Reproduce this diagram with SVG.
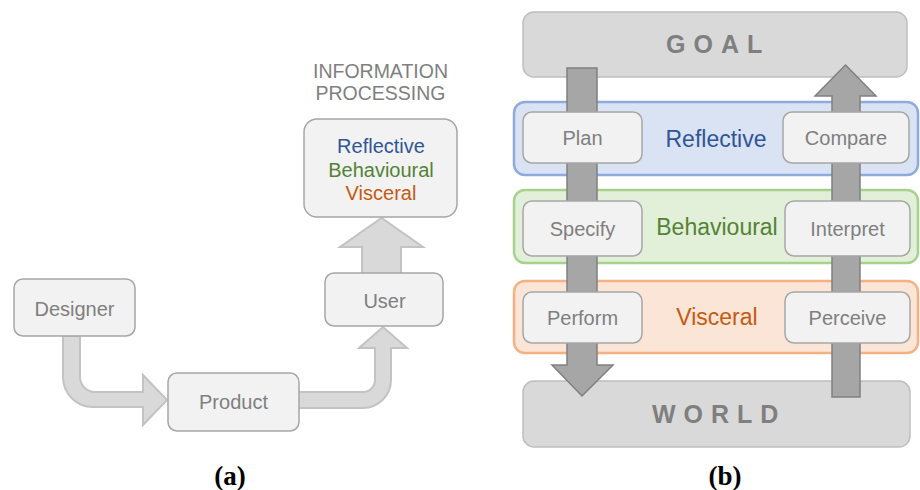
<svg xmlns="http://www.w3.org/2000/svg" width="920" height="490" viewBox="0 0 920 490">
<style>
.bg{fill:#ffffff}
.box{fill:#f2f2f2;stroke:#a6a6a6;stroke-width:1.5}
.big{fill:#d9d9d9;stroke:#bfbfbf;stroke-width:1.5}
.t{font-family:"Liberation Sans",Arial,sans-serif;font-size:20px;fill:#7f7f7f;text-anchor:middle}
.band{font-family:"Liberation Sans",Arial,sans-serif;font-size:23px;text-anchor:middle}
.spaced{font-family:"Liberation Sans",Arial,sans-serif;font-size:25px;font-weight:bold;fill:#7f7f7f;letter-spacing:8px}
.la{fill:#d9d9d9;stroke:#c3c3c3;stroke-width:2}
.lb{fill:#a6a6a6;stroke:#808080;stroke-width:1.5}
.cap{font-family:"Liberation Serif","Times New Roman",serif;font-size:27px;font-weight:bold;fill:#000;text-anchor:middle}
</style>
<rect class="bg" x="0" y="0" width="920" height="490"/>

<!-- Part (a) -->
<g id="connectors-a">
<path class="la" d="M63,336 L63,377 A30,30 0 0 0 93,407 L143,407 L143,425 L167,400 L143,375 L143,392 L95,392 A15,15 0 0 1 80,377 L80,336 Z"/>
<path class="la" d="M297,392 L297,408 L363,408 A28,28 0 0 0 391,380 L391,348 L407,348 L383,327 L359,348 L375,348 L375,380 A12,12 0 0 1 363,392 Z"/>
<path class="la" d="M362,274 L362,247 L340,247 L381.5,218 L423,247 L401,247 L401,274 Z"/>
</g>
<g id="designer">
<rect class="box" x="14" y="279" width="121" height="57" rx="9"/>
<text class="t" x="74.5" y="316">Designer</text>
</g>
<g id="product">
<rect class="box" x="168" y="373" width="131" height="58" rx="9"/>
<text class="t" x="233.5" y="409">Product</text>
</g>
<g id="user">
<rect class="box" x="325" y="273" width="118" height="53" rx="9"/>
<text class="t" x="384.5" y="308">User</text>
</g>
<g id="info-processing">
<text class="t" x="380.5" y="78" style="font-size:19.5px">INFORMATION</text>
<text class="t" x="380.5" y="100" style="font-size:19.5px">PROCESSING</text>
<rect class="box" x="304" y="119" width="153" height="98" rx="13"/>
<text class="t" x="381" y="153" style="fill:#2f5597">Reflective</text>
<text class="t" x="381" y="177" style="fill:#548235">Behavioural</text>
<text class="t" x="381" y="200" style="fill:#c55a11">Visceral</text>
</g>
<text class="cap" x="230" y="485">(a)</text>

<!-- Part (b) -->
<g id="goal">
<rect class="big" x="523" y="12" width="384" height="65" rx="11"/>
<text class="spaced" x="666" y="53">GOAL</text>
</g>
<g id="world">
<rect class="big" x="523" y="381" width="387" height="66" rx="11"/>
<text class="spaced" x="652" y="423">WORLD</text>
</g>
<g id="reflective">
<rect x="514" y="102" width="404" height="73" rx="11" fill="#dae3f3" stroke="#8faadc" stroke-width="2.5"/>
<text class="band" x="716" y="147" fill="#2f5597">Reflective</text>
</g>
<g id="behavioural">
<rect x="514" y="190" width="404" height="73" rx="11" fill="#e2f0d9" stroke="#a9d18e" stroke-width="2.5"/>
<text class="band" x="717" y="235" fill="#548235">Behavioural</text>
</g>
<g id="visceral">
<rect x="514" y="281" width="404" height="72" rx="11" fill="#fbe5d6" stroke="#f4b183" stroke-width="2.5"/>
<text class="band" x="717" y="325" fill="#c55a11">Visceral</text>
</g>
<g id="connectors-b">
<path class="lb" d="M567,68 L567,365 L552,365 L582,396 L613,365 L597,365 L597,68 Z"/>
<path class="lb" d="M832,397 L832,96 L815,96 L845.5,65 L876,96 L860,96 L860,397 Z"/>
</g>
<g id="plan">
<rect class="box" x="523" y="112" width="119" height="51" rx="9"/>
<text class="t" x="582.5" y="145">Plan</text>
</g>
<g id="compare">
<rect class="box" x="783" y="112" width="126" height="51" rx="9"/>
<text class="t" x="846" y="145">Compare</text>
</g>
<g id="specify">
<rect class="box" x="523" y="201" width="119" height="55" rx="9"/>
<text class="t" x="582.5" y="236">Specify</text>
</g>
<g id="interpret">
<rect class="box" x="785" y="201" width="125" height="55" rx="9"/>
<text class="t" x="847.5" y="236">Interpret</text>
</g>
<g id="perform">
<rect class="box" x="523" y="292" width="119" height="51" rx="9"/>
<text class="t" x="582.5" y="325">Perform</text>
</g>
<g id="perceive">
<rect class="box" x="785" y="292" width="125" height="51" rx="9"/>
<text class="t" x="847.5" y="325">Perceive</text>
</g>
<text class="cap" x="725" y="485">(b)</text>
</svg>
